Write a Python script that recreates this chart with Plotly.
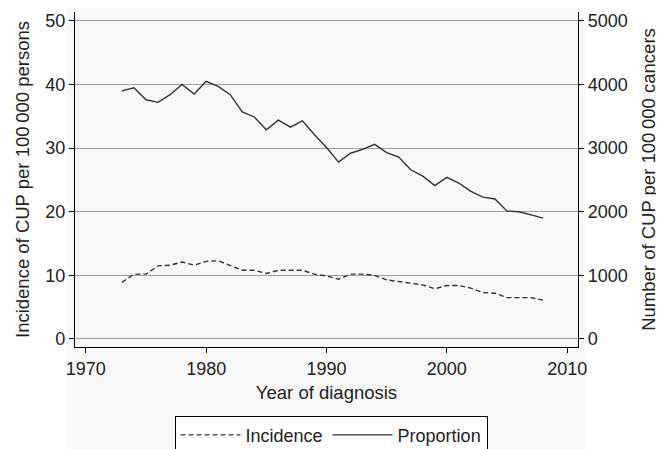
import plotly.graph_objects as go

years = list(range(1973, 2009))
incidence = [8.9, 10.2, 10.2, 11.5, 11.6, 12.1, 11.6, 12.2, 12.3, 11.6,
             10.8, 10.8, 10.3, 10.8, 10.8, 10.8, 10.2, 9.9, 9.4, 10.2,
             10.2, 10.0, 9.3, 9.0, 8.8, 8.5, 7.9, 8.4, 8.4, 8.0,
             7.3, 7.2, 6.5, 6.5, 6.5, 6.1]
proportion = [3900, 3950, 3760, 3720, 3840, 4000, 3850, 4050, 3970, 3840,
              3570, 3490, 3290, 3440, 3330, 3430, 3210, 3010, 2780, 2920,
              2980, 3060, 2930, 2860, 2660, 2560, 2410, 2540, 2450, 2320,
              2230, 2200, 2010, 2000, 1950, 1900]

x_ticks = [1970, 1980, 1990, 2000, 2010]
y_ticks = [0, 10, 20, 30, 40, 50]
y2_ticks = [0, 1000, 2000, 3000, 4000, 5000]

FONT = "Liberation Sans, Arial, Helvetica, sans-serif"
LINE = "#333333"
TITLE_SIZE = 18.5

fig = go.Figure()
fig.add_trace(go.Scatter(x=years, y=incidence, name="Incidence", mode="lines",
                         line=dict(color=LINE, width=1.4, dash="5px,3px"), yaxis="y"))
fig.add_trace(go.Scatter(x=years, y=proportion, name="Proportion", mode="lines",
                         line=dict(color=LINE, width=1.4), yaxis="y2"))

axis_common = dict(showline=True, linecolor="black", linewidth=1.3,
                   ticks="outside", ticklen=5, tickcolor="black", tickwidth=1.3,
                   tickfont=dict(size=18, color="#222"), zeroline=False, automargin=False)

fig.update_layout(
    width=656, height=441,
    margin=dict(l=67, r=86, t=4, b=102, autoexpand=False),
    paper_bgcolor="white", plot_bgcolor="rgba(0,0,0,0)",
    font=dict(family=FONT, color="#222"),
    showlegend=True,
    xaxis=dict(range=[1969.1, 2010.9], tickvals=x_ticks, showgrid=False,
               title=dict(text="Year of diagnosis", font=dict(size=TITLE_SIZE), standoff=8),
               **axis_common),
    yaxis=dict(range=[-1.26, 51.4], tickvals=y_ticks, showgrid=True,
               gridcolor="#a0a0a0", gridwidth=1.4,
               title=dict(text="Incidence of CUP per 100\u2009000 persons", font=dict(size=TITLE_SIZE), standoff=10),
               **axis_common),
    yaxis2=dict(range=[-126, 5140], tickvals=y2_ticks, overlaying="y", side="right",
                showgrid=False,
                title=dict(text="Number of CUP per 100\u2009000 cancers", font=dict(size=TITLE_SIZE), standoff=15),
                **axis_common),
    legend=dict(orientation="h", x=0.509, xanchor="center", y=-0.205, yanchor="top",
                bordercolor="black", borderwidth=1, font=dict(size=18, color="#222"),
                bgcolor="white", itemwidth=60),
    shapes=[dict(type="rect", xref="paper", yref="paper", x0=-0.016, x1=1.014,
                 y0=-0.31, y1=1.04, fillcolor="#f8f8f8", line=dict(width=0), layer="below")],
)

fig.write_html("out.html")
